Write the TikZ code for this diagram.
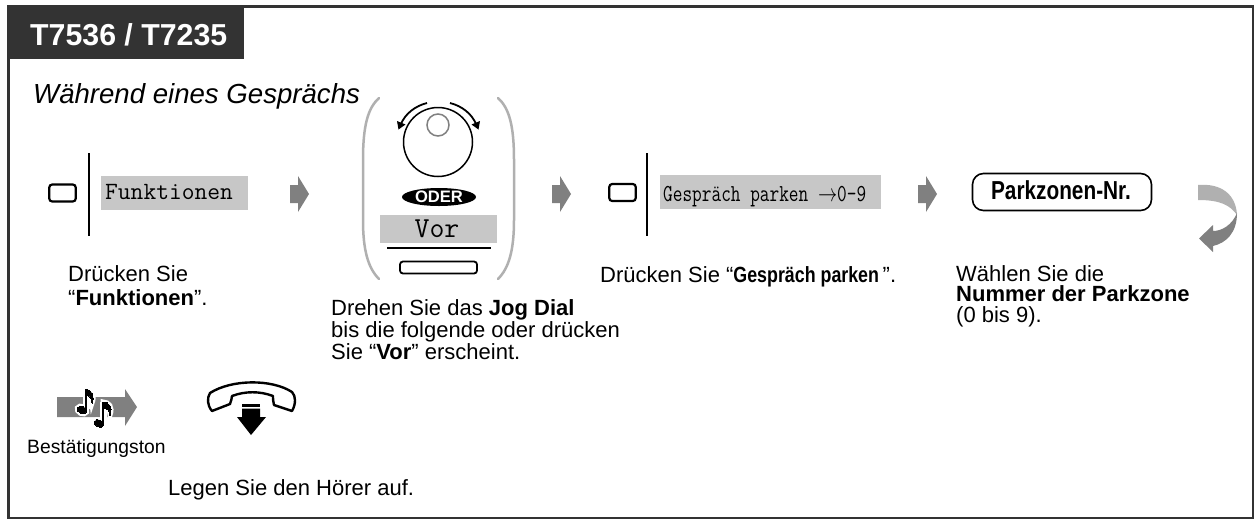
\documentclass[tikz,border=0pt]{standalone}
\usepackage{fontspec}
\usepackage{graphicx}
\setmainfont{Liberation Sans}
\usetikzlibrary{shapes.geometric}
\definecolor{hdr}{gray}{0.2}
\definecolor{lcd}{gray}{0.78}
\definecolor{arr}{gray}{0.5}
\definecolor{arrl}{gray}{0.69}
\tikzset{
  captxt/.style={anchor=north west,align=left,inner sep=0pt,font=\fontsize{22}{#1}\selectfont},
  captxt/.default=22,
  softkey/.style={draw=black,line width=2.2pt,rounded corners=3pt,fill=white,minimum width=26.5pt,minimum height=17pt,inner sep=0pt},
  lcdbox/.style={fill=lcd,inner sep=0pt},
  nextarrow/.style={fill=arr,draw=none},
  bar/.style={draw=black,line width=2.2pt},
  paren/.style={draw=arrl,line width=2.5pt,line cap=round},
}
\begin{document}
\begin{tikzpicture}[x=1pt,y=-1pt]
\useasboundingbox (0,0) rectangle (1256,523);
\fill[white] (0,0) rectangle (1256,523);
\draw[line width=2.6pt,draw=hdr] (8.5,6.5) rectangle (1253,518);
\node[fill=hdr,minimum width=236pt,minimum height=52pt,inner sep=0pt,anchor=north west] (hdr) at (8,7) {};
\node[anchor=base west,inner sep=0pt,text=white,font=\bfseries\fontsize{30.3}{32}\selectfont] (title) at (30,45) {T7536 / T7235};
\node[anchor=base west,inner sep=0pt,font=\itshape\fontsize{27.6}{30}\selectfont] (during) at (33,103) {Während eines Gesprächs};

% step 1
\node[softkey] (k1) at (62.5,193) {};
\draw[bar] (89,153) -- (89,236);
\node[lcdbox,minimum width=147pt,minimum height=34pt] (l1) at (174.5,192.5) {};
\node[anchor=base west,inner sep=0pt,font=\ttfamily\fontsize{24.8}{25}\selectfont] (t1) at (105,199.5) {Funktionen};
\fill[nextarrow] (290,185) -- (298,185) -- (298,176) -- (309,194) -- (298,212) -- (298,203) -- (290,203) -- cycle;
\node[captxt=24.7] (c1) at (68,265) {Drücken Sie\\“\textbf{Funktionen}”.};

% step 2: jog dial
\draw[paren] (379,98) .. controls (368,108) and (363,125) .. (363,160) -- (363,220) .. controls (363,250) and (368,268) .. (379,279);
\draw[paren] (498,98) .. controls (509,108) and (514,125) .. (514,160) -- (514,220) .. controls (514,250) and (509,268) .. (498,279);
\node[circle,draw=black,line width=1.5pt,minimum size=69pt,inner sep=0pt] (dial) at (438,142) {};
\node[circle,draw=black!50,line width=1.5pt,minimum size=22pt,inner sep=0pt] (knob) at (438,125) {};
\draw[line width=1.8pt] (427,103) .. controls (415,106) and (405,114) .. (401,124);
\fill (398.5,129.5) -- (397,121) -- (405.5,124.5) -- cycle;
\draw[line width=1.8pt] (450,103) .. controls (462,106) and (472,114) .. (476,124);
\fill (478.5,129.5) -- (480,121) -- (471.5,124.5) -- cycle;
\node[ellipse,fill=black,minimum width=74pt,minimum height=18pt,inner sep=0pt] (oder) at (439,197) {};
\node[inner sep=0pt,text=white,font=\bfseries\fontsize{16.6}{17}\selectfont] (odert) at (439,197) {ODER};
\node[lcdbox,minimum width=117pt,minimum height=28pt] (l2) at (438.5,229) {};
\node[anchor=base,inner sep=0pt,font=\ttfamily\fontsize{29}{30}\selectfont] (t2) at (437,237) {Vor};
\draw[line width=1.1pt] (387,248) -- (491,248);
\node[softkey,minimum width=77pt,minimum height=12pt,line width=1.8pt] (k2) at (438.5,267.5) {};
\fill[nextarrow] (552,185) -- (560,185) -- (560,176) -- (571,194) -- (560,212) -- (560,203) -- (552,203) -- cycle;
\node[captxt=22] (c2) at (331,299) {Drehen Sie das \textbf{Jog Dial}\\bis die folgende oder drücken\\Sie “\textbf{Vor}” erscheint.};

% step 3
\node[softkey] (k3) at (622.5,192.5) {};
\draw[bar] (647,153) -- (647,236);
\node[lcdbox,minimum width=221pt,minimum height=34pt] (l3) at (770.5,192) {};
\node[anchor=base west,inner sep=0pt,font=\ttfamily\fontsize{24.4}{25}\selectfont] (t3) at (663,201.5) {\scalebox{0.77}[1]{Gespräch parken $\rightarrow$0-9}};
\fill[nextarrow] (918,185) -- (926,185) -- (926,176) -- (937,194) -- (926,212) -- (926,203) -- (918,203) -- cycle;
\node[captxt] (c3) at (600,266) {Drücken Sie “\textbf{\scalebox{0.81}[1]{Gespräch parken}}\,”.};

% step 4
\node[draw=black,line width=1.6pt,rounded corners=11pt,minimum width=179pt,minimum height=37pt,inner sep=0pt] (pz) at (1062,192) {};
\node[anchor=base,inner sep=0pt,font=\bfseries\fontsize{26}{27}\selectfont] (pzt) at (1061,199) {\scalebox{0.8}[1]{Parkzonen-Nr.}};
\node[captxt=20.7] (c4) at (956,265) {Wählen Sie die\\\textbf{Nummer der Parkzone}\\(0 bis 9).};

% continuation arrow
\fill[arrl] (1198,185) .. controls (1222,183) and (1236,195) .. (1237,215) .. controls (1230,205) and (1220,200) .. (1198,200) -- cycle;
\fill[arr] (1237,213) .. controls (1237,233) and (1226,243) .. (1213,246) -- (1213,252) -- (1199,238.5) -- (1213,225) -- (1213,231) .. controls (1222,231) and (1232,225) .. (1237,213) -- cycle;

% tone
\fill[arr] (57,397) -- (125,397) -- (125,389) -- (137,407) -- (125,426) -- (125,417) -- (57,417) -- cycle;
\foreach \c/\w in {white/5,black/0}{
  \draw[\c,line width=\w pt+2pt] (86.3,409) -- (86.3,389);
  \filldraw[\c,line width=\w pt] (86,389) .. controls (92,390) and (95,396) .. (92,403) .. controls (92,398) and (90,396) .. (86,395) -- cycle;
  \filldraw[\c,line width=\w pt,rotate around={-25:(82,410)}] (82,410) ellipse (5pt and 3.6pt);
  \draw[\c,line width=\w pt+2pt] (103.3,423) -- (103.3,402);
  \filldraw[\c,line width=\w pt] (103,402) .. controls (109,402) and (113,407) .. (110,415) .. controls (110,411) and (108,408) .. (103,408) -- cycle;
  \filldraw[\c,line width=\w pt,rotate around={-25:(99,423.5)}] (99,423.5) ellipse (5pt and 3.6pt);
}
\node[anchor=base west,inner sep=0pt,font=\fontsize{19.3}{21}\selectfont] (conf) at (27,453) {Bestätigungston};

% handset
\draw[line width=2.4pt,fill=white,line join=round] (210,393) .. controls (232,379) and (272,379) .. (292,392) .. controls (296,396) and (296,404) .. (292,411) -- (274,405) .. controls (273,402) and (273,398) .. (273,396) .. controls (260,391) and (245,391) .. (232,396) .. controls (232,398) and (231,401) .. (230,404) -- (212,411) .. controls (207,405) and (207,398) .. (210,393) -- cycle;
\fill (242,404) rectangle (260,406.5);
\fill (242,408.5) -- (260,408.5) -- (260,417) -- (266,417) -- (251,435) -- (237,417) -- (242,417) -- cycle;
\node[anchor=base west,inner sep=0pt,font=\fontsize{22}{24}\selectfont] (c5) at (168,495) {Legen Sie den Hörer auf.};
\end{tikzpicture}
\end{document}
